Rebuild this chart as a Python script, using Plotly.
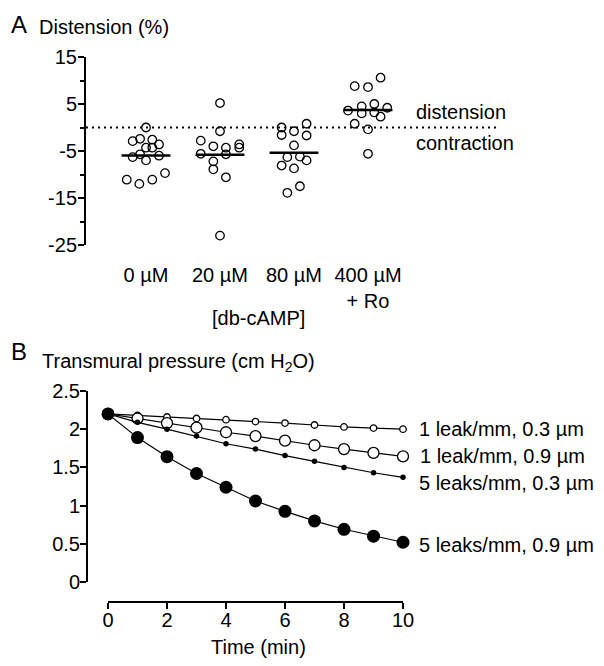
import numpy as np
import plotly.graph_objects as go

# page body has an 8px default margin: figure drawn 8px in, coordinates below are page pixels
OFF = 8
W, H = 604 - OFF, 666 - OFF
FONT = "Liberation Sans, Arial, Helvetica, sans-serif"

# ---------------- Panel A data ----------------
groups = ["0 µM", "20 µM", "80 µM", "400 µM<br>+ Ro"]
vals_0 = [0.0, -2.9, -2.4, -2.6, -3.6, -4.3, -4.3, -6.3, -5.7, -6.0, -7.0, -11.1, -12.0, -11.1, -9.7]
jit_0 = [0.0, -0.18, -0.08, 0.085, 0.176, 0.0, 0.085, -0.18, -0.08, 0.176, 0.0, -0.26, -0.09, 0.085, 0.257]
vals_20 = [5.2, -0.8, -2.8, -4.0, -4.3, -3.6, -4.3, -5.6, -5.7, -7.2, -8.9, -10.6, -23.0]
jit_20 = [0.0, 0.0, -0.26, -0.09, 0.08, 0.26, 0.26, -0.26, 0.08, -0.09, -0.09, 0.08, 0.0]
vals_80 = [0.0, -1.6, -0.8, 0.8, -1.7, -3.8, -6.3, -6.2, -7.0, -8.1, -8.7, -12.5, -13.9]
jit_80 = [-0.167, -0.167, 0.0, 0.17, 0.17, 0.0, -0.09, 0.08, 0.17, -0.167, 0.0, 0.08, -0.09]
vals_400 = [10.6, 8.8, 8.6, 3.6, 4.5, 5.0, 4.2, 3.0, 3.2, 2.3, 0.8, -0.4, -5.6]
jit_400 = [0.17, -0.18, 0.0, -0.27, -0.085, 0.085, 0.26, -0.085, 0.085, 0.17, -0.18, 0.0, 0.0]
a_ticks_major = [15, 5, -5, -15, -25]
a_tick_text = ["15", "5", "-5", "-15", "-25"]
a_ticks_minor = [10, 0, -10, -20]

# ---------------- Panel B data ----------------
time_min = [0, 1, 2, 3, 4, 5, 6, 7, 8, 9, 10]
p_1leak_03 = [2.2, 2.18, 2.16, 2.14, 2.125, 2.10, 2.08, 2.055, 2.03, 2.015, 2.0]
p_1leak_09 = [2.2, 2.14, 2.08, 2.02, 1.96, 1.91, 1.85, 1.79, 1.74, 1.69, 1.645]
p_5leak_03 = [2.2, 2.09, 2.0, 1.91, 1.81, 1.74, 1.655, 1.58, 1.50, 1.43, 1.37]
p_5leak_09 = [2.2, 1.89, 1.64, 1.42, 1.24, 1.06, 0.925, 0.80, 0.69, 0.60, 0.52]
labels_b = ["1 leak/mm, 0.3 µm", "1 leak/mm, 0.9 µm", "5 leaks/mm, 0.3 µm", "5 leaks/mm, 0.9 µm"]


def px(x):
    return (x - OFF) / W


def py(y):
    return 1 - (y - OFF) / H


fig = go.Figure()

# Panel A scatter
all_vals = [vals_0, vals_20, vals_80, vals_400]
all_jit = [jit_0, jit_20, jit_80, jit_400]
for i, (v, j) in enumerate(zip(all_vals, all_jit)):
    fig.add_trace(go.Scatter(
        x=[i + d for d in j], y=v, mode="markers", xaxis="x", yaxis="y",
        marker=dict(symbol="circle-open", size=8.5, color="black", line=dict(width=1.3)),
        showlegend=False, cliponaxis=False, hoverinfo="skip"))
for i, v in enumerate(all_vals):
    m = float(np.mean(v))
    fig.add_trace(go.Scatter(
        x=[i - 0.33, i + 0.33], y=[m, m], mode="lines", xaxis="x", yaxis="y",
        line=dict(color="black", width=2.5), showlegend=False, hoverinfo="skip"))

# Panel B series
series = [
    (p_1leak_03, False, 6.5),
    (p_1leak_09, False, 11),
    (p_5leak_03, True, 5.5),
    (p_5leak_09, True, 13),
]
for vals, filled, sz in series:
    fig.add_trace(go.Scatter(
        x=time_min, y=vals, mode="lines+markers", xaxis="x2", yaxis="y2",
        line=dict(color="black", width=1.2),
        marker=dict(symbol="circle", size=sz, color="black" if filled else "white",
                    line=dict(color="black", width=0 if filled else 1.3)),
        showlegend=False, cliponaxis=False, hoverinfo="skip"))

# dotted zero line
fig.add_shape(type="line", xref="x domain", yref="y", x0=0, x1=1, y0=0, y1=0,
              line=dict(color="black", width=2, dash="2px,4px"))


def note(text, cx, cy, size=20):
    return dict(text=text, x=px(cx), y=py(cy), xref="paper", yref="paper",
                xanchor="center", yanchor="middle", showarrow=False, borderpad=0,
                font=dict(size=size))


ann = [
    note("A", 19, 24, 24),
    note("Distension (%)", 104, 27),
    note("[db-cAMP]", 258, 318),
    note("distension", 461, 112),
    note("contraction", 465, 143),
    note("B", 19, 351, 24),
    note("Transmural pressure (cm H<sub>2</sub>O)", 178, 362),
    note("Time (min)", 259, 647),
]
yshifts = [0, 0, -6, -3]
centers_b = [501, 502, 506, 506]
for vals, lab, ys, cx in zip([s[0] for s in series], labels_b, yshifts, centers_b):
    ann.append(dict(text=lab, x=px(cx), y=vals[-1], xref="paper", yref="y2",
                    xanchor="center", yanchor="middle", yshift=ys, showarrow=False))

axis_common = dict(showgrid=False, zeroline=False, color="black", automargin=False,
                   tickfont=dict(size=20, color="black"))

fig.update_layout(
    template="none",
    width=W, height=H, margin=dict(l=0, r=0, t=0, b=0, pad=0),
    paper_bgcolor="white", plot_bgcolor="white",
    font=dict(family=FONT, size=20, color="black"),
    annotations=ann,
    xaxis=dict(domain=[px(86), px(498)], range=[(86 - 146) / 74, (498 - 146) / 74],
               anchor="y", showline=False, ticks="", tickmode="array",
               tickvals=[0, 1, 2, 3], ticktext=groups, ticklabelstandoff=16, **axis_common),
    yaxis=dict(domain=[py(245), py(57)], range=[-25, 15], anchor="x",
               showline=True, linewidth=2, linecolor="black",
               ticks="outside", ticklen=6, tickwidth=2, tickcolor="black",
               tickmode="array", tickvals=a_ticks_major, ticktext=a_tick_text,
               ticklabelstandoff=-3,
               minor=dict(tickmode="array", tickvals=a_ticks_minor, ticks="outside",
                          ticklen=4, tickwidth=2, tickcolor="black"),
               **axis_common),
    xaxis2=dict(domain=[px(108), px(403)], range=[0, 10], anchor="free", position=py(602),
                showline=True, linewidth=2, linecolor="black",
                ticks="outside", ticklen=6, tickwidth=2, tickcolor="black",
                tick0=0, dtick=2, ticklabelstandoff=-6, **axis_common),
    yaxis2=dict(domain=[py(582), py(391)], range=[0, 2.5], anchor="free", position=px(87),
                showline=True, linewidth=2, linecolor="black",
                ticks="outside", ticklen=6, tickwidth=2, tickcolor="black",
                tick0=0, dtick=0.5, ticklabelstandoff=-4, **axis_common),
)

fig.write_html("out.html")
